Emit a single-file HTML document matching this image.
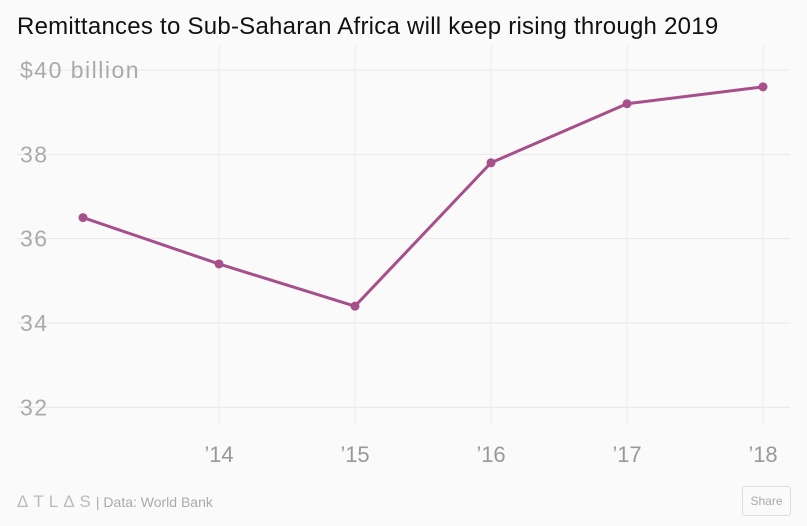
<!DOCTYPE html>
<html><head><meta charset="utf-8"><style>
html,body{margin:0;padding:0;background:#fafafa;width:807px;height:526px;overflow:hidden;font-family:"Liberation Sans",sans-serif}
#title{position:absolute;left:17px;top:13px;font-size:24px;letter-spacing:0.25px;color:#111;white-space:nowrap}
#footer{position:absolute;left:17px;top:492px;font-size:14px;color:#aaa}
#share{position:absolute;left:742px;top:486px;width:47px;height:28px;border:1px solid #ddd;border-radius:3px;font-size:12px;color:#aaa;text-align:center;line-height:28px;background:#fafafa}
</style></head><body>
<div id="title">Remittances to Sub-Saharan Africa will keep rising through 2019</div>
<svg id="chart" width="807" height="526" style="position:absolute;left:0;top:0"></svg>
<div id="footer"><span style="letter-spacing:5px;font-size:17px;color:#bbb">ΔTLΔS</span>| Data: World Bank</div>
<div id="share">Share</div>
<script>
const years=[2013,2014,2015,2016,2017,2018];
const values=[36.5,35.4,34.4,37.8,39.2,39.6];
const yTicks=[32,34,36,38,40];
const yTickLabels=["32","34","36","38","$40 billion"];
const xTicks=[2014,2015,2016,2017,2018];
const xTickLabels=["’14","’15","’16","’17","’18"];
const NS="http://www.w3.org/2000/svg";
const svg=document.getElementById('chart');
const x=v=>83+(v-2013)*136;
const y=v=>70+(40-v)*42.17;
function mk(t,a){const e=document.createElementNS(NS,t);for(const k in a)e.setAttribute(k,a[k]);svg.appendChild(e);return e;}
yTicks.forEach((t,i)=>{
 const l=mk('line',{x1:17,x2:790,y1:y(t),y2:y(t),stroke:'#e8e8e8','stroke-width':1});
 
 
 const tx=mk('text',{x:20,y:y(t)+8,'font-size':23,'letter-spacing':1.5,fill:'#aaa','font-family':'Liberation Sans, sans-serif'});
 tx.textContent=yTickLabels[i];
 
 
});
xTicks.forEach((t,i)=>{
 const l=mk('line',{x1:x(t),x2:x(t),y1:45,y2:425,stroke:'#ececec','stroke-width':1});
 
 
 const tx=mk('text',{x:x(t),y:462,'font-size':22,fill:'#999','text-anchor':'middle','font-family':'Liberation Sans, sans-serif'});
 tx.textContent=xTickLabels[i];
 
 
});
const p=mk('polyline',{points:years.map((d,i)=>x(d)+','+y(values[i])).join(' '),fill:'none',stroke:'#a64f8a','stroke-width':3,'stroke-linejoin':'round'});


years.forEach((d,i)=>{
 const c=mk('circle',{cx:x(d),cy:y(values[i]),r:4.5,fill:'#a64f8a'});
 
 
});
</script>
</body></html>
